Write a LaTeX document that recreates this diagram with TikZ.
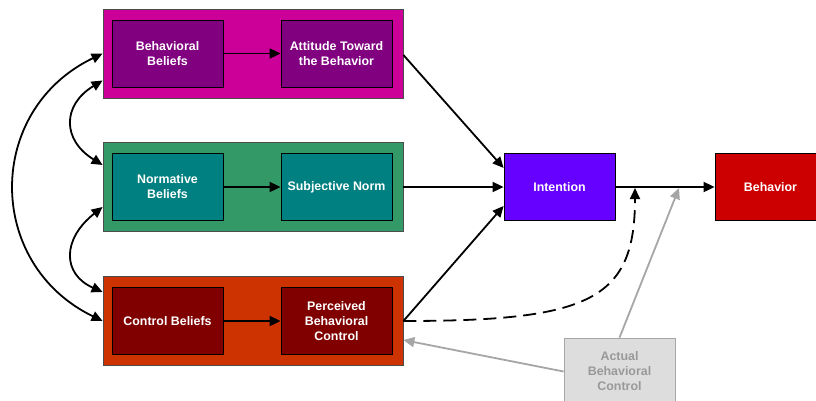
\documentclass[tikz,border=0pt]{standalone}
\usepackage{fontspec}
\setmainfont{Liberation Sans}
\usetikzlibrary{arrows.meta}
\definecolor{attOuter}{HTML}{CC0099}
\definecolor{attInner}{HTML}{800080}
\definecolor{normOuter}{HTML}{339966}
\definecolor{normInner}{HTML}{008080}
\definecolor{ctrlOuter}{HTML}{CC3300}
\definecolor{ctrlInner}{HTML}{800000}
\definecolor{intentFill}{HTML}{6600FF}
\definecolor{behavFill}{HTML}{CC0000}
\definecolor{actualFill}{HTML}{DDDDDD}
\definecolor{actualLine}{HTML}{A6A6A6}
\definecolor{actualText}{HTML}{999999}
\begin{document}
\begin{tikzpicture}[x=1pt,y=-1pt,
  group/.style={draw=black!70, line width=0.8pt, minimum width=300pt, minimum height=89pt, inner sep=0pt},
  box/.style={draw=black, line width=0.8pt, minimum width=111pt, minimum height=67pt, inner sep=2pt,
    text=white, align=center, font=\fontsize{12.4}{15}\selectfont\bfseries},
  link/.style={line width=1.8pt, -{Triangle[length=11pt,width=10pt]}},
  both/.style={line width=1.8pt, {Triangle[length=11pt,width=10pt]}-{Triangle[length=11pt,width=10pt]}},
  grey/.style={line width=1.8pt, draw=actualLine, -{Triangle[length=11pt,width=10pt]}}]
\clip (0,0) rectangle (816,400);
\fill[white] (0,0) rectangle (816,400);

% three belief groups
\node[group, fill=attOuter]  (g1) at (253,53.5) {};
\node[group, fill=normOuter] (g2) at (253,187) {};
\node[group, fill=ctrlOuter] (g3) at (253,321) {};

\node[box, fill=attInner]  (bb)  at (167.5,53.5) {Behavioral\\Beliefs};
\node[box, fill=attInner]  (atb) at (336.5,53.5) {Attitude Toward\\the Behavior};
\node[box, fill=normInner] (nb)  at (167.5,187) {Normative\\Beliefs};
\node[box, fill=normInner] (sn)  at (336.5,187) {Subjective Norm};
\node[box, fill=ctrlInner] (cb)  at (167.5,321) {Control Beliefs};
\node[box, fill=ctrlInner] (pbc) at (336.5,321) {Perceived\\Behavioral\\Control};

% intention, behavior, actual control
\node[box, fill=intentFill] (int) at (559.5,187) {Intention};
\node[box, fill=behavFill]  (beh) at (770.5,187) {Behavior};
\node[box, fill=actualFill, draw=actualLine, text=actualText] (abc) at (619.5,371.5) {Actual\\Behavioral\\Control};

% links inside the groups
\draw[link] (bb) -- (atb);
\draw[link] (nb) -- (sn);
\draw[link] (cb) -- (pbc);

% paths into intention and behavior
\coordinate (intA) at ([yshift=19pt]int.west);
\coordinate (intC) at ([yshift=-19pt]int.west);
\draw[link] ([yshift=-1.5pt]g1.east) -- (intA);
\draw[link] (g2.east) -- (int.west);
\draw[link] (g3.east) -- (intC);
\draw[link] (int) -- (beh);
\coordinate (dashEnd) at (635,188);
\draw[link, dash pattern=on 13pt off 7pt] (g3.east) .. controls (590,321) and (635,300) .. (dashEnd);

% actual behavioral control
\coordinate (realEnd) at (679,188);
\draw[grey] (abc.north) -- (realEnd);
\draw[grey] (abc.west) -- ([yshift=-19pt]g3.east);

% correlations among belief groups
\draw[both] (g1.west) .. controls (-15,110) and (-15,264) .. (g3.west);
\draw[both] ([yshift=-27pt]g1.west) .. controls (62,105) and (62,140) .. ([yshift=22pt]g2.west);
\draw[both] ([yshift=-20pt]g2.west) .. controls (62,239) and (62,274) .. ([yshift=29pt]g3.west);
\end{tikzpicture}
\end{document}
